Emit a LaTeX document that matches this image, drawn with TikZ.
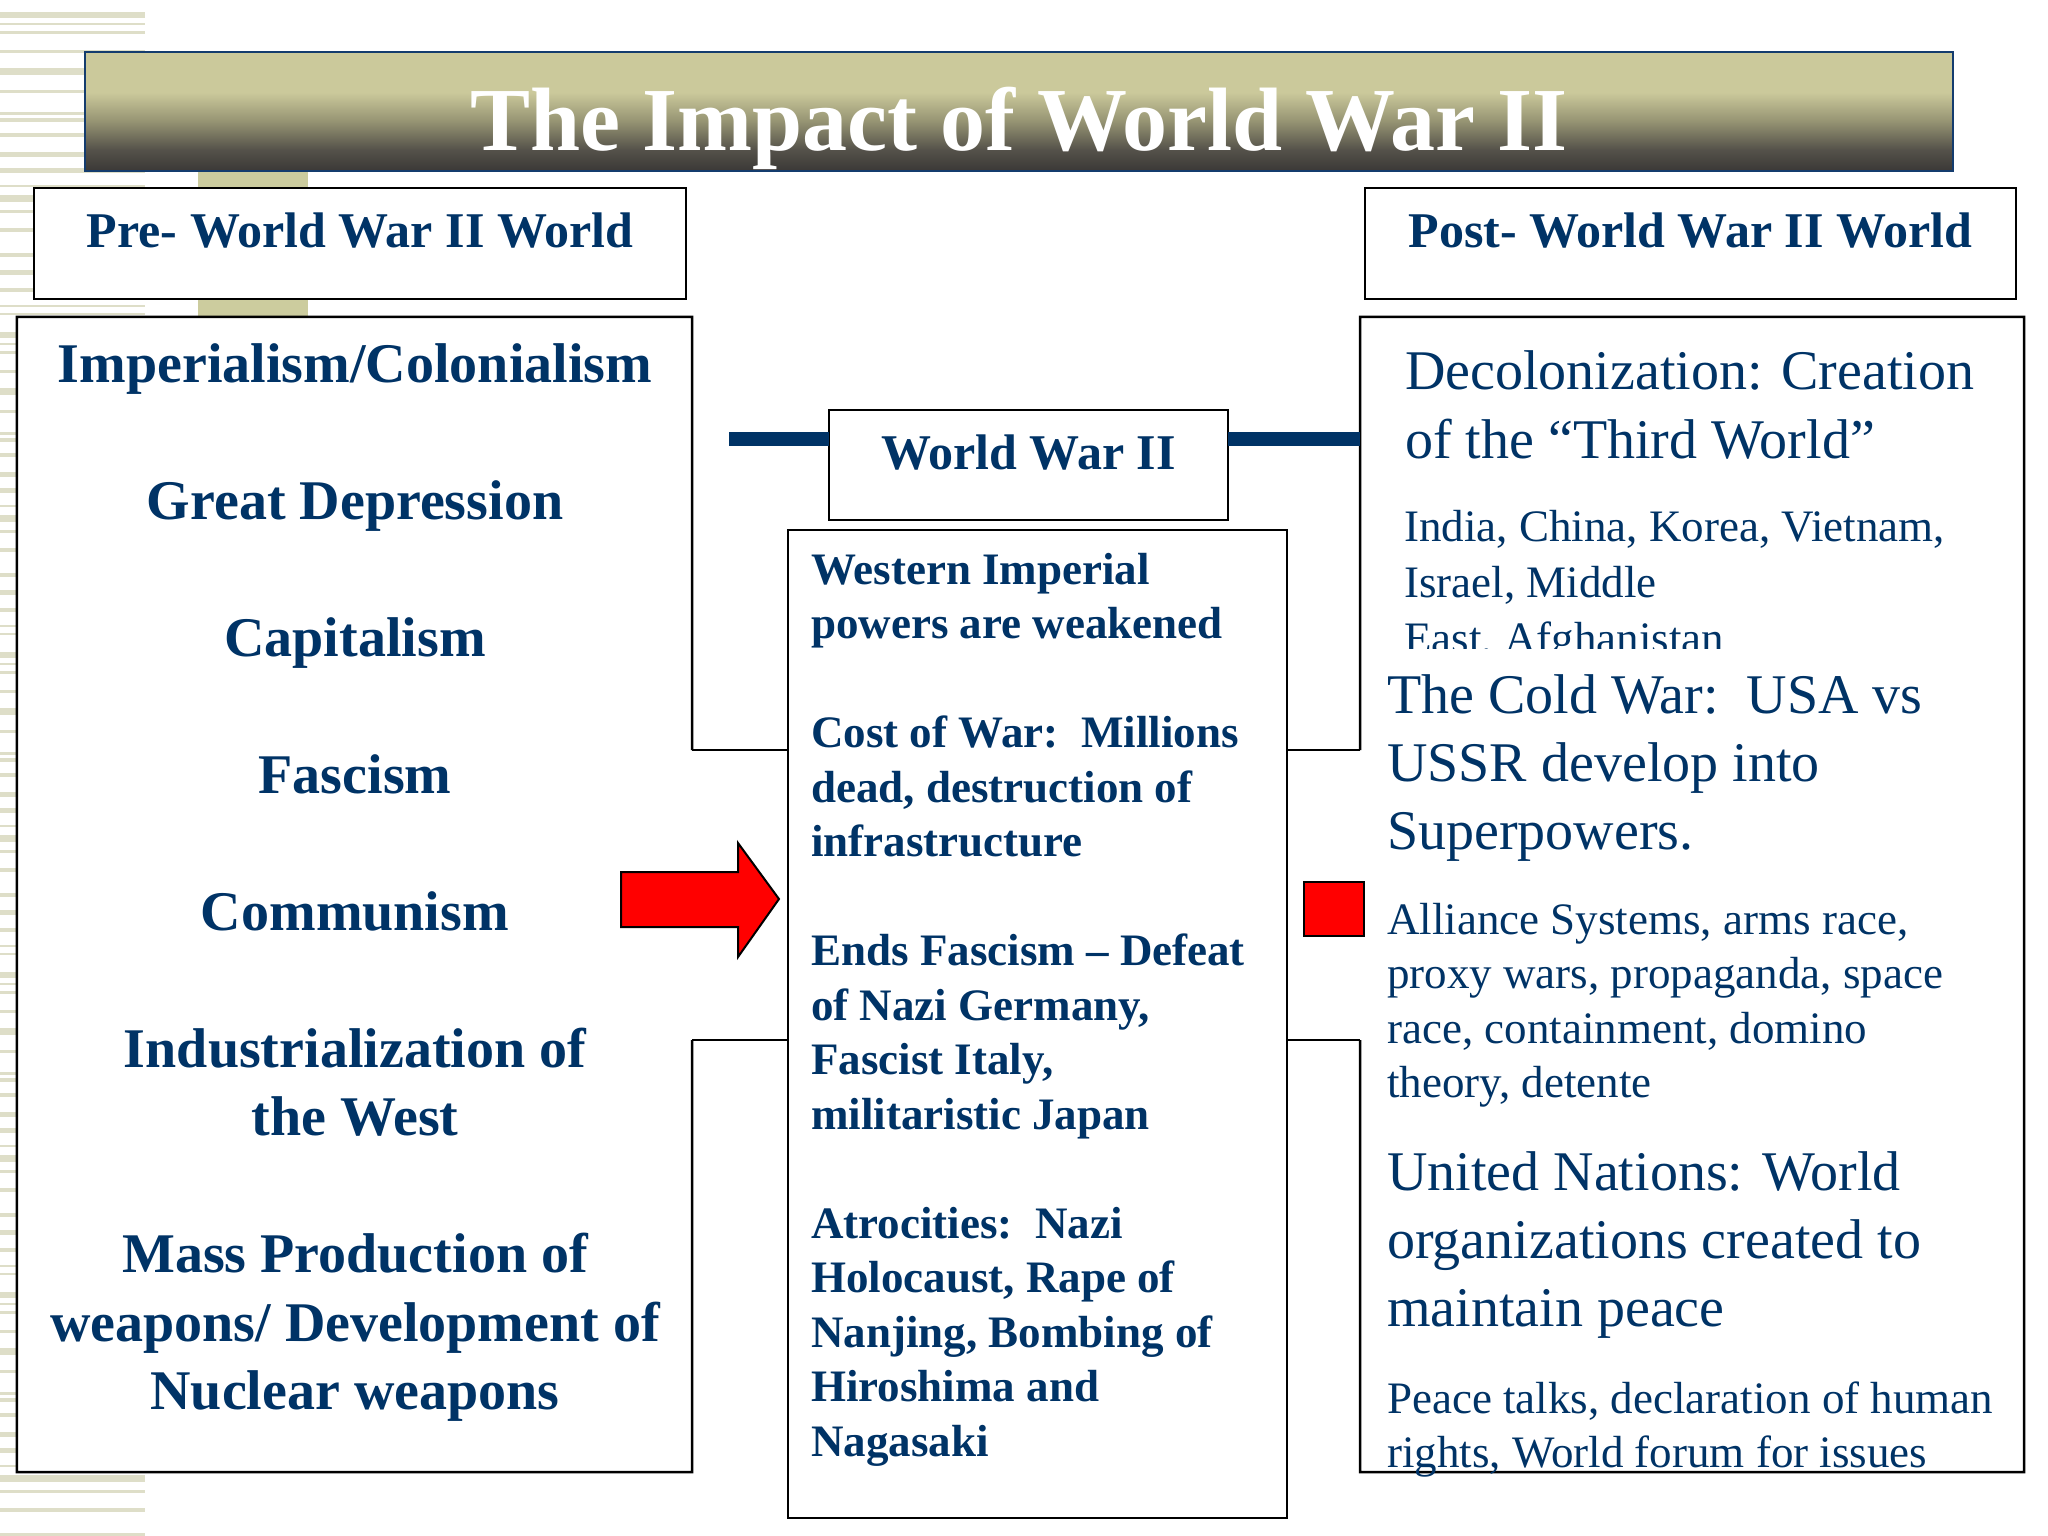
\documentclass[tikz,border=0pt]{standalone}
\usepackage{fontspec}
\setmainfont{Liberation Serif}
\definecolor{navy}{RGB}{0,51,102}
\definecolor{stripe}{RGB}{222,222,200}
\definecolor{khaki}{RGB}{204,204,158}
\definecolor{tbtop}{RGB}{203,201,155}
\definecolor{tbmid}{RGB}{150,148,115}
\definecolor{tblow}{RGB}{85,82,74}
\definecolor{tbbot}{RGB}{58,56,54}
\definecolor{tbline}{RGB}{20,60,110}
\pgfdeclareverticalshading{titlegrad}{100bp}{color(0bp)=(tbbot); color(25bp)=(tbbot); color(34bp)=(tblow); color(46bp)=(tbmid); color(58bp)=(tbtop); color(75bp)=(tbtop); color(100bp)=(tbtop)}
\tikzset{
  boxline/.style={draw=black, line width=2.5bp},
  whitebox/.style={fill=white, draw=none, inner sep=0, outer sep=0},
  capbox/.style={fill=white, draw=black, line width=2.5bp, inner sep=0, outer sep=0},
  navyline/.style={draw=navy, line width=14bp},
  tB50/.style={text=navy, inner sep=0, font=\bfseries\fontsize{50bp}{60bp}\selectfont},
  tB56/.style={text=navy, inner sep=0, font=\bfseries\fontsize{56bp}{66bp}\selectfont},
  tB45/.style={text=navy, inner sep=0, font=\bfseries\fontsize{45bp}{54bp}\selectfont},
  tR56/.style={text=navy, inner sep=0, font=\fontsize{56bp}{66bp}\selectfont},
  tR45/.style={text=navy, inner sep=0, font=\fontsize{45bp}{54bp}\selectfont},
  ttl/.style={text=white, inner sep=0, font=\bfseries\fontsize{90bp}{100bp}\selectfont},
}
\begin{document}
\begin{tikzpicture}[x=1bp,y=-1bp]
\useasboundingbox (0,0) rectangle (2048,1536);
\fill[white] (0,0) rectangle (2048,1536);
% left stripes
\foreach \o in {0,320,640,960,1280}{
  \foreach \y/\h in {12/6,23/2,31/3,50/3,68/7,90/3,112/3,118/4,133/4,152/5,168/5,185/2,195/7,210/3,228/4,253/4,270/5,288/4,305/2,313/2}{
    \fill[stripe] (0,{\o+\y}) rectangle (145,{\o+\y+\h});
  }
}
% vertical khaki bar
\fill[khaki] (198,172) rectangle (308,317);
% title bar
\node[draw=tbline, line width=2bp, shading=titlegrad, minimum width=1868bp, minimum height=119bp, inner sep=0, outer sep=0] (tbar) at (1019,111.5) {};
\node[ttl, anchor=base] (title) at (1019,151) {The Impact of World War II};
% header boxes
\node[capbox, minimum width=652bp, minimum height=111bp] (prebox) at (360,243.5) {};
\node[capbox, minimum width=651bp, minimum height=111bp] (postbox) at (1690.5,243.5) {};
\node[tB50, anchor=base] (pretxt) at (360,247) {Pre- World War II World};
\node[tB50, anchor=base] (posttxt) at (1690.5,247) {Post- World War II World};
% big boxes
\node[whitebox, minimum width=675bp, minimum height=1155bp] (lbox) at (354.5,894.5) {};
\node[whitebox, minimum width=664bp, minimum height=1155bp] (rbox) at (1692,894.5) {};
\node[capbox, minimum width=499bp, minimum height=988bp] (cbox) at (1037.5,1024) {};
\coordinate (lnA) at (692,750);
\coordinate (lnB) at (692,1040);
\coordinate (rnA) at (1360,750);
\coordinate (rnB) at (1360,1040);
\draw[boxline] (lnA) -- (lbox.north east) -- (lbox.north west) -- (lbox.south west) -- (lbox.south east) -- (lnB);
\draw[boxline] (lnA) -- (cbox.west |- lnA);
\draw[boxline] (lnB) -- (cbox.west |- lnB);
\draw[boxline] (rnA) -- (rbox.north west) -- (rbox.north east) -- (rbox.south east) -- (rbox.south west) -- (rnB);
\draw[boxline] (rnA) -- (cbox.east |- rnA);
\draw[boxline] (rnB) -- (cbox.east |- rnB);
% World War II box and navy connectors
\node[capbox, minimum width=399bp, minimum height=110bp] (wwii) at (1028.5,465) {};
\node[tB50, anchor=base] (wwtxt) at (1028.5,469) {World War II};
\coordinate (navL) at (729,439);
\draw[navyline] (navL) -- (wwii.west |- navL);
\draw[navyline] (wwii.east |- navL) -- (rbox.west |- navL);
% red arrow and red square
\draw[fill=red, draw=black, line width=2bp, line join=miter] (621,872) -- (738,872) -- (738,843) -- (779,899) -- (738,957) -- (738,927) -- (621,927) -- cycle;
\node[draw=black, fill=red, line width=2bp, minimum width=60bp, minimum height=54bp, inner sep=0] (redsq) at (1334,909) {};
% left column
\node[tB56, anchor=base] (L1) at (355,382) {Imperialism/Colonialism};
\node[tB56, anchor=base] (L2) at (355,519) {Great Depression};
\node[tB56, anchor=base] (L3) at (355,656) {Capitalism};
\node[tB56, anchor=base] (L4) at (355,793) {Fascism};
\node[tB56, anchor=base] (L5) at (355,930) {Communism};
\node[tB56, anchor=base] (L6) at (355,1067) {Industrialization of};
\node[tB56, anchor=base] (L7) at (355,1135.5) {the West};
\node[tB56, anchor=base] (L8) at (355,1272.5) {Mass Production of};
\node[tB56, anchor=base] (L9) at (355,1341) {weapons/ Development of};
\node[tB56, anchor=base] (L10) at (355,1409.5) {Nuclear weapons};
% center column
\node[tB45, anchor=base west] (C1) at (811,584) {Western Imperial};
\node[tB45, anchor=base west] (C2) at (811,638.5) {powers are weakened};
\node[tB45, anchor=base west] (C3) at (811,747.5) {Cost of War:\ \ Millions};
\node[tB45, anchor=base west] (C4) at (811,802) {dead, destruction of};
\node[tB45, anchor=base west] (C5) at (811,856.5) {infrastructure};
\node[tB45, anchor=base west] (C6) at (811,965.5) {Ends Fascism -- Defeat};
\node[tB45, anchor=base west] (C7) at (811,1020) {of Nazi Germany,};
\node[tB45, anchor=base west] (C8) at (811,1074.5) {Fascist Italy,};
\node[tB45, anchor=base west] (C9) at (811,1129) {militaristic Japan};
\node[tB45, anchor=base west] (C10) at (811,1238) {Atrocities:\ \ Nazi};
\node[tB45, anchor=base west] (C11) at (811,1292.5) {Holocaust, Rape of};
\node[tB45, anchor=base west] (C12) at (811,1347) {Nanjing, Bombing of};
\node[tB45, anchor=base west] (C13) at (811,1401.5) {Hiroshima and};
\node[tB45, anchor=base west] (C14) at (811,1456) {Nagasaki};
% right column
\node[tR56, anchor=base west] (R1) at (1405,389) {Decolonization: Creation};
\node[tR56, anchor=base west] (R2) at (1405,458) {of the “Third World”};
\node[tR45, anchor=base west] (R3) at (1404,541) {India, China, Korea, Vietnam,};
\node[tR45, anchor=base west] (R4) at (1404,597) {Israel, Middle};
\begin{scope}
\clip (1380,600) rectangle (2000,648);
\node[tR45, anchor=base west] (R5) at (1404,653) {East, Afghanistan};
\end{scope}
\node[tR56, anchor=base west] (R6) at (1387,713) {The Cold War:\ \ USA vs};
\node[tR56, anchor=base west] (R7) at (1387,781) {USSR develop into};
\node[tR56, anchor=base west] (R8) at (1387,849) {Superpowers.};
\node[tR45, anchor=base west] (R9) at (1387,934) {Alliance Systems, arms race,};
\node[tR45, anchor=base west] (R10) at (1387,988) {proxy wars, propaganda, space};
\node[tR45, anchor=base west] (R11) at (1387,1043) {race, containment, domino};
\node[tR45, anchor=base west] (R12) at (1387,1097) {theory, detente};
\node[tR56, anchor=base west] (R13) at (1387,1190) {United Nations: World};
\node[tR56, anchor=base west] (R14) at (1387,1258) {organizations created to};
\node[tR56, anchor=base west] (R15) at (1387,1326) {maintain peace};
\node[tR45, anchor=base west] (R16) at (1387,1413) {Peace talks, declaration of human};
\node[tR45, anchor=base west] (R17) at (1387,1467) {rights, World forum for issues};
\end{tikzpicture}
\end{document}
